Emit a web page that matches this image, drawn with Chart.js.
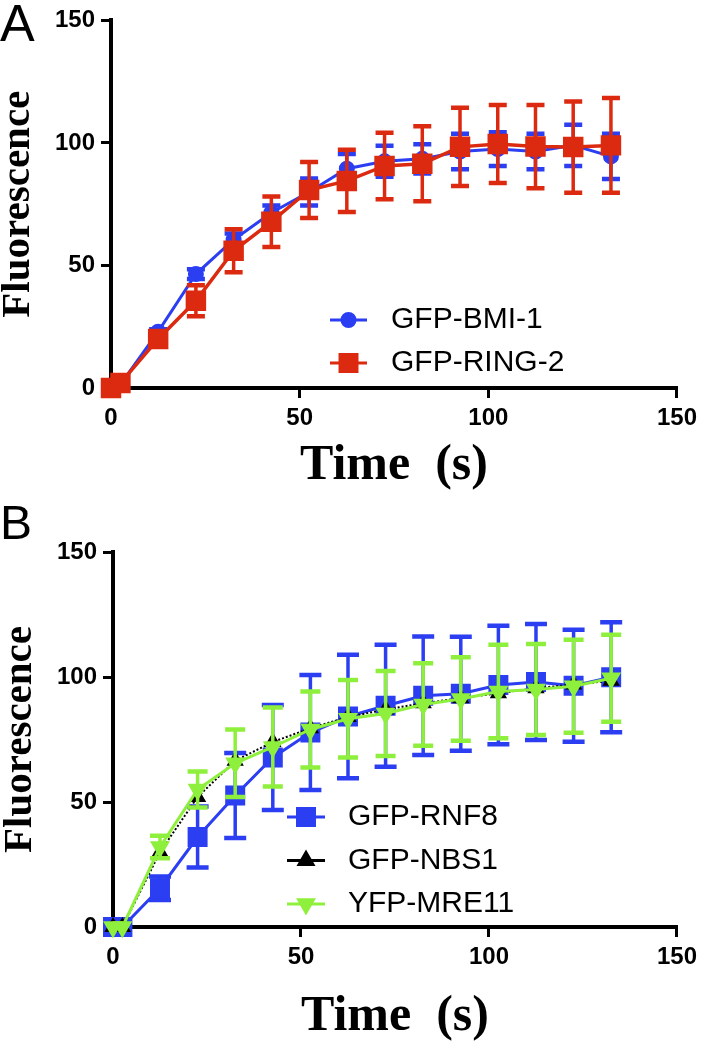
<!DOCTYPE html>
<html>
<head>
<meta charset="utf-8">
<script src="https://cdn.jsdelivr.net/npm/chart.js@4.4.1/dist/chart.umd.min.js"></script>
<style>
  body { margin: 0; background: #fff; width: 703px; height: 1044px; position: relative; overflow: hidden; }
  canvas { position: absolute; left: 0; }
  .letter { position: absolute; left: 0; font-family: "Liberation Sans", Arial, sans-serif; line-height: 1; color: #000; }
</style>
</head>
<body>
<canvas id="chartA" style="top:0" width="703" height="515"></canvas>
<canvas id="chartB" style="top:515px" width="703" height="529"></canvas>
<div class="letter" style="top:-3px;font-size:52px">A</div>
<div class="letter" style="top:499px;font-size:48px">B</div>
<script>
// time points (s), shared by both panels
const timePoints = [0, 2.5, 12.5, 22.5, 32.5, 42.5, 52.5, 62.5, 72.5, 82.5, 92.5, 102.5, 112.5, 122.5, 132.5];
const xTicks = [0, 50, 100, 150];
const yTicks = [0, 50, 100, 150];

// Panel A
const bmi1Mean  = [0, 1.5, 23, 46.5, 60.5, 71.5, 80, 89.5, 92.5, 93.5, 96.5, 97.5, 96.5, 99, 94.5];
const bmi1Err   = [0, 0, 1, 2, 2.5, 3, 5.5, 6, 6.3, 6, 7.2, 6.9, 7.2, 8.4, 9.2];
const ring2Mean = [0, 2, 20, 35.6, 56, 67.8, 80.8, 84.5, 90.6, 91.5, 98.4, 99.6, 98.5, 98.3, 99];
const ring2Err  = [0, 0, 1.5, 6.3, 8.8, 10.3, 11.4, 12.7, 13.6, 15.3, 16, 15.9, 17, 18.6, 19.3];

// Panel B
const rnf8Mean  = [0, 0, 15.5, 36, 52.6, 67.8, 77.8, 84.2, 88.5, 92.5, 93.3, 96.8, 98, 96.5, 99.9];
const rnf8Err   = [0, 0, 4.7, 12.2, 17, 21, 23, 24.7, 24.4, 23.7, 22.8, 23.7, 23.2, 22.4, 22];
const nbs1Mean  = [0, 0, 30, 52, 66.5, 74, 79.5, 84, 87, 89.5, 91.5, 93.5, 95.5, 97, 98.5];
const mre11Mean = [0, 0, 32, 55, 65.5, 72, 79, 83.3, 85.4, 89, 91.2, 94.2, 95, 96.3, 99.5];
const mre11Err  = [0, 0, 4.5, 7.2, 13.5, 15.8, 15.2, 15.5, 17, 16.5, 16.7, 18.7, 18.2, 18.6, 17.4];

const BLUE = "#2b3ef2", RED = "#dc2a10", GREEN = "#8ef03c", BLACK = "#000";

const toXY = (vals) => timePoints.map((t, i) => ({ x: t, y: vals[i] }));

// error bars drawn under each dataset's own line
const errorBars = {
  id: "errorBars",
  beforeDatasetDraw(chart, args) {
    const ds = chart.data.datasets[args.index];
    if (!ds.errors) return;
    const { ctx, scales: { x, y } } = chart;
    ctx.save();
    ctx.strokeStyle = ds.borderColor;
    ds.data.forEach((p, i) => {
      const e = ds.errors[i];
      if (!e) return;
      const px = x.getPixelForValue(p.x);
      const top = y.getPixelForValue(p.y + e);
      const bot = y.getPixelForValue(p.y - e);
      ctx.lineWidth = ds.errWidth;
      ctx.beginPath();
      ctx.moveTo(px, top); ctx.lineTo(px, bot);
      ctx.stroke();
      ctx.lineWidth = ds.capWidth;
      ctx.beginPath();
      ctx.moveTo(px - ds.capHalf, top); ctx.lineTo(px + ds.capHalf, top);
      ctx.moveTo(px - ds.capHalf, bot); ctx.lineTo(px + ds.capHalf, bot);
      ctx.stroke();
    });
    ctx.restore();
  }
};

// GraphPad-like legend: line segment with marker, then label
const plotLegend = {
  id: "plotLegend",
  afterDraw(chart, args, opts) {
    const { ctx } = chart;
    ctx.save();
    chart.data.datasets.forEach((ds, row) => {
      const y = opts.y + row * opts.rowGap;
      ctx.setLineDash([]);
      ctx.strokeStyle = ds.borderColor;
      ctx.lineWidth = 3;
      ctx.beginPath(); ctx.moveTo(opts.x0, y); ctx.lineTo(opts.x1, y); ctx.stroke();
      ctx.fillStyle = ds.pointBackgroundColor;
      ctx.strokeStyle = ds.pointBackgroundColor;
      Chart.helpers.drawPoint(ctx, {
        pointStyle: ds.pointStyle, radius: ds.pointRadius,
        rotation: ds.pointRotation || 0, borderWidth: 1
      }, (opts.x0 + opts.x1) / 2, y);
      ctx.fillStyle = "#000";
      ctx.font = opts.font;
      ctx.textBaseline = "middle";
      ctx.textAlign = "left";
      ctx.fillText(ds.label, opts.textX, y);
    });
    ctx.restore();
  }
};

function axes(yWidth, xHeight, yTitlePad, xTitlePad) {
  const common = {
    type: "linear",
    min: 0,
    max: 150,
    border: { display: true, color: "#000", width: 4 },
    grid: { drawOnChartArea: false, drawTicks: true, tickLength: 10, color: "#000", lineWidth: 3 },
    ticks: { color: "#000", font: { family: "'Liberation Sans', Arial, sans-serif", weight: "bold", size: 24 } }
  };
  return {
    x: {
      ...common,
      afterBuildTicks: (s) => { s.ticks = xTicks.map((v) => ({ value: v })); },
      afterFit: (s) => { s.height = xHeight; },
      ticks: { ...common.ticks, padding: 6, maxRotation: 0 },
      title: {
        display: true, text: "Time  (s)", color: "#000",
        font: { family: "'Liberation Serif', 'Times New Roman', serif", weight: "bold", size: 50, lineHeight: 1 },
        padding: { top: 0, bottom: xTitlePad }
      }
    },
    y: {
      ...common,
      afterBuildTicks: (s) => { s.ticks = yTicks.map((v) => ({ value: v })); },
      afterFit: (s) => { s.width = yWidth; },
      ticks: { ...common.ticks, padding: 6 },
      title: {
        display: true, text: "Fluorescence", color: "#000",
        font: { family: "'Liberation Serif', 'Times New Roman', serif", weight: "bold", size: 41, lineHeight: 1 },
        padding: { top: yTitlePad, bottom: 0 }
      }
    }
  };
}

function series(label, vals, errs, color, style, radius, order, extra) {
  return Object.assign({
    label: label,
    data: toXY(vals),
    errors: errs,
    borderColor: color,
    backgroundColor: color,
    pointBackgroundColor: color,
    pointBorderColor: color,
    pointStyle: style,
    pointRadius: radius,
    borderWidth: 3,
    errWidth: 3.5,
    capWidth: 4.5,
    capHalf: 9,
    tension: 0,
    clip: false,
    order: order
  }, extra || {});
}

function baseOptions(pad, yWidth, xHeight, yTitlePad, xTitlePad, legend) {
  return {
    responsive: false,
    animation: false,
    events: [],
    layout: { padding: pad },
    scales: axes(yWidth, xHeight, yTitlePad, xTitlePad),
    plugins: {
      legend: { display: false },
      tooltip: { enabled: false },
      plotLegend: legend
    }
  };
}

new Chart(document.getElementById("chartA"), {
  type: "line",
  data: {
    datasets: [
      series("GFP-BMI-1", bmi1Mean, bmi1Err, BLUE, "circle", 6.5, 2),
      series("GFP-RING-2", ring2Mean, ring2Err, RED, "rect", 12, 1, { borderWidth: 3.5 })
    ]
  },
  options: baseOptions({ left: 0, top: 14, right: 26, bottom: 0 }, 111, 127, -2, 24,
    { x0: 330, x1: 367, y: 320, rowGap: 43, textX: 391, font: "30px 'Liberation Sans', Arial, sans-serif" }),
  plugins: [errorBars, plotLegend]
});

new Chart(document.getElementById("chartB"), {
  type: "line",
  data: {
    datasets: [
      series("GFP-RNF8", rnf8Mean, rnf8Err, BLUE, "rect", 12, 3, { capHalf: 11 }),
      series("GFP-NBS1", nbs1Mean, null, BLACK, "triangle", 8, 2, { borderWidth: 2, borderDash: [2, 2] }),
      series("YFP-MRE11", mre11Mean, mre11Err, GREEN, "triangle", 8.5, 1, { pointRotation: 180, rotation: 180, capHalf: 10 })
    ]
  },
  options: baseOptions({ left: 0, top: 37, right: 24, bottom: 0 }, 113, 117, 0, 2,
    { x0: 287, x1: 325, y: 302, rowGap: 43.5, textX: 348, font: "30px 'Liberation Sans', Arial, sans-serif" }),
  plugins: [errorBars, plotLegend]
});
</script>
</body>
</html>
